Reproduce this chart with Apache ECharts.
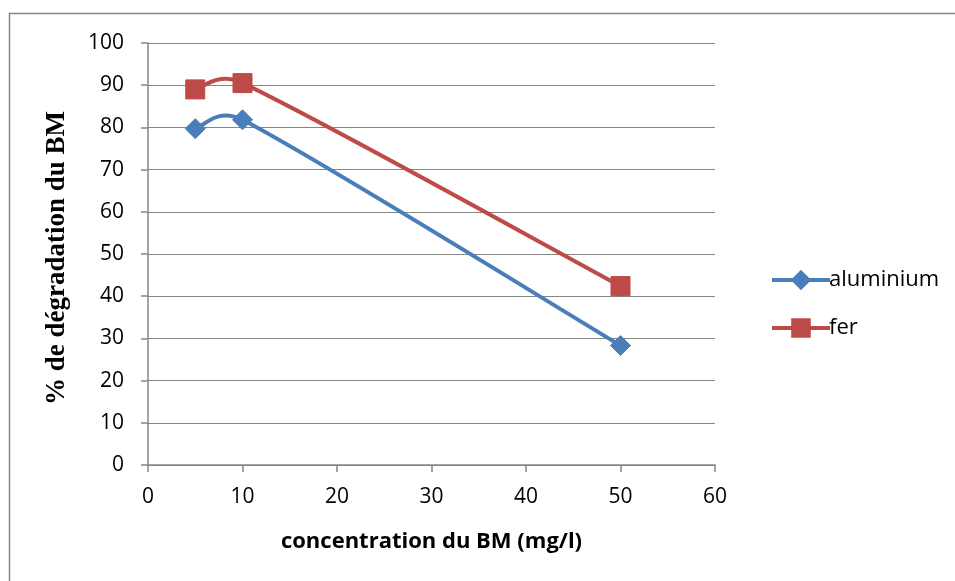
<!DOCTYPE html>
<html>
<head>
<meta charset="utf-8">
<script src="https://cdn.jsdelivr.net/npm/echarts@6/dist/echarts.min.js"></script>
<style>
  html, body { margin: 0; padding: 0; background: #ffffff; }
  #chart { width: 955px; height: 581px; }
</style>
</head>
<body>
<div id="chart"></div>
<script>
// Concentration du BM (mg/l)
const concentrations = [5, 10, 50];
// % de dégradation du BM pour chaque électrode
const aluminium = [79.7, 81.8, 28.3];
const fer = [89.0, 90.5, 42.4];

const seriesNames = ['aluminium', 'fer'];
const seriesColors = ['#4A7EBB', '#BE4B48'];
const xTitle = 'concentration du BM (mg/l)';
const yTitle = '% de dégradation du BM';

const gridColor = '#868686';
const labelFont = '"Open Sans", sans-serif';

const toPairs = (vals) => concentrations.map((c, i) => [c, vals[i]]);

// Smoothed curve through pixel points: cubic Bezier segments whose tangents follow
// the neighbouring points (1/6 rule), shortened on short segments to avoid loops.
function smoothPath(pts, cap) {
  const n = pts.length;
  const tangent = (i) => {
    const p = pts[Math.max(i - 1, 0)];
    const q = pts[Math.min(i + 1, n - 1)];
    return [(q[0] - p[0]) / 6, (q[1] - p[1]) / 6];
  };
  const limit = (t, segLen) => {
    const len = Math.hypot(t[0], t[1]);
    const max = cap * segLen;
    const s = len > max ? max / len : 1;
    return [t[0] * s, t[1] * s];
  };
  let d = 'M' + pts[0][0] + ' ' + pts[0][1];
  for (let i = 0; i < n - 1; i++) {
    const a = pts[i], b = pts[i + 1];
    const seg = Math.hypot(b[0] - a[0], b[1] - a[1]);
    const ta = limit(tangent(i), seg);
    const tb = limit(tangent(i + 1), seg);
    d += ' C' + (a[0] + ta[0]) + ' ' + (a[1] + ta[1]) + ' ' +
         (b[0] - tb[0]) + ' ' + (b[1] - tb[1]) + ' ' + b[0] + ' ' + b[1];
  }
  return d;
}

function curveSeries(name, vals, color) {
  const pairs = toPairs(vals);
  return {
    name: name + ' (courbe)',
    type: 'custom',
    coordinateSystem: 'cartesian2d',
    data: pairs,
    encode: { x: 0, y: 1 },
    silent: true,
    z: 2,
    renderItem: function (params, api) {
      if (params.dataIndex !== 0) return null;
      const pts = pairs.map((p) => api.coord(p));
      return {
        type: 'path',
        shape: { pathData: smoothPath(pts, 0.6) },
        style: { stroke: color, lineWidth: 4, fill: null, lineCap: 'round', lineJoin: 'round' }
      };
    }
  };
}

function markerSeries(name, vals, color, symbol, size) {
  return {
    name: name,
    type: 'line',
    data: toPairs(vals),
    symbol: symbol,
    symbolSize: size,
    showAllSymbol: true,
    lineStyle: { color: color, width: 4, opacity: 0 },
    itemStyle: { color: color, borderColor: color, borderWidth: 1 },
    z: 3
  };
}

const chart = echarts.init(document.getElementById('chart'), null, { renderer: 'canvas' });

chart.setOption({
  backgroundColor: '#ffffff',
  animation: false,
  graphic: [
    {
      type: 'rect',
      shape: { x: 9.5, y: 13.5, width: 1000, height: 600 },
      style: { fill: 'none', stroke: gridColor, lineWidth: 1.5 },
      silent: true
    },
    {
      type: 'text',
      left: 44,
      top: 111,
      rotation: Math.PI / 2,
      style: {
        text: yTitle,
        font: 'bold 27px "Liberation Serif", "Times New Roman", serif',
        fill: '#000000'
      }
    }
  ],
  grid: { left: 148, right: 240, top: 43, bottom: 116 },
  legend: {
    orient: 'vertical',
    left: 765,
    top: 264,
    itemWidth: 58,
    itemHeight: 22,
    itemGap: 26,
    lineStyle: { width: 4, opacity: 1 },
    textStyle: { fontFamily: labelFont, fontSize: 22, color: '#000000', padding: [0, 0, 0, -6] },
    data: seriesNames
  },
  xAxis: {
    type: 'value',
    min: 0,
    max: 60,
    interval: 10,
    name: xTitle,
    nameLocation: 'middle',
    nameGap: 66,
    nameTextStyle: { fontFamily: labelFont, fontSize: 22, fontWeight: 'bold', color: '#000000' },
    axisLine: { show: true, lineStyle: { color: gridColor, width: 1.5 } },
    axisTick: { show: true, length: 7, lineStyle: { color: gridColor, width: 1.5 } },
    axisLabel: { fontFamily: labelFont, fontSize: 21, color: '#000000', margin: 22 },
    splitLine: { show: false }
  },
  yAxis: {
    type: 'value',
    min: 0,
    max: 100,
    interval: 10,
    axisLine: { show: true, lineStyle: { color: gridColor, width: 1.5 } },
    axisTick: { show: true, length: 7, lineStyle: { color: gridColor, width: 1.5 } },
    axisLabel: { fontFamily: labelFont, fontSize: 21, color: '#000000', margin: 24 },
    splitLine: { show: true, lineStyle: { color: gridColor, width: 1.2 } }
  },
  series: [
    curveSeries(seriesNames[1], fer, seriesColors[1]),
    curveSeries(seriesNames[0], aluminium, seriesColors[0]),
    markerSeries(seriesNames[0], aluminium, seriesColors[0], 'diamond', 20),
    markerSeries(seriesNames[1], fer, seriesColors[1], 'rect', 19)
  ]
});
</script>
</body>
</html>
